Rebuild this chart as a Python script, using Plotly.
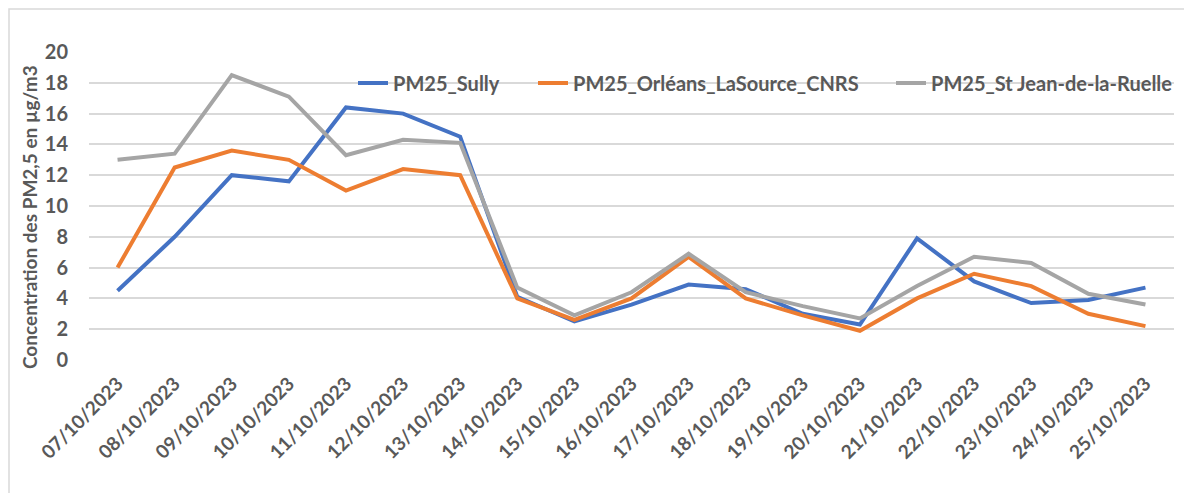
import plotly.graph_objects as go

dates = ["07/10/2023", "08/10/2023", "09/10/2023", "10/10/2023", "11/10/2023",
         "12/10/2023", "13/10/2023", "14/10/2023", "15/10/2023", "16/10/2023",
         "17/10/2023", "18/10/2023", "19/10/2023", "20/10/2023", "21/10/2023",
         "22/10/2023", "23/10/2023", "24/10/2023", "25/10/2023"]

sully = [4.5, 8.0, 12.0, 11.6, 16.4, 16.0, 14.5, 4.1, 2.5, 3.6,
         4.9, 4.6, 3.0, 2.3, 7.9, 5.1, 3.7, 3.9, 4.7]
orleans = [6.0, 12.5, 13.6, 13.0, 11.0, 12.4, 12.0, 4.0, 2.6, 4.0,
           6.7, 4.0, 2.9, 1.9, 4.0, 5.6, 4.8, 3.0, 2.2]
stjean = [13.0, 13.4, 18.5, 17.1, 13.3, 14.3, 14.1, 4.7, 2.9, 4.4,
          6.9, 4.4, 3.5, 2.7, 4.8, 6.7, 6.3, 4.3, 3.6]

names = ["PM25_Sully", "PM25_Orléans_LaSource_CNRS", "PM25_St Jean-de-la-Ruelle"]
colors = ["#4472C4", "#ED7D31", "#A5A5A5"]
yticks = [0, 2, 4, 6, 8, 10, 12, 14, 16, 18, 20]
y_title = "Concentration des PM2,5 en µg/m3"

OFF = 8  # default page body margin
W, H = 1192 - OFF, 493 - OFF
ML, MR, MT, MB = 89 - OFF, 18, 52 - OFF, 133
PW = W - ML - MR
PH = H - MT - MB

TEXT = "#595959"
FONT = "Lato"

fig = go.Figure()
legend_ids = ["legend", "legend2", "legend3"]
for vals, name, col, lg in zip([sully, orleans, stjean], names, colors, legend_ids):
    fig.add_trace(go.Scatter(x=dates, y=vals, mode="lines", name=name,
                             line=dict(color=col, width=4), legend=lg))

def px2x(px):
    return (px - OFF - ML) / PW

def py2y(py):
    return (MT + PH - (py - OFF)) / PH

leg_common = dict(orientation="h", yanchor="middle", xanchor="left",
                  bgcolor="rgba(0,0,0,0)", borderwidth=0,
                  font=dict(family=FONT, size=20, color=TEXT, weight="bold"))
legend_text_x = [393, 573, 931]
leg_layout = {}
for lg, tx in zip(legend_ids, legend_text_x):
    leg_layout[lg] = dict(x=px2x(tx - 40), y=py2y(83), **leg_common)

fig.update_layout(
    width=W, height=H,
    margin=dict(l=ML, r=MR, t=MT, b=MB, autoexpand=False),
    paper_bgcolor="white", plot_bgcolor="white",
    showlegend=True,
    **leg_layout,
    xaxis=dict(type="category", range=[-0.5, len(dates) - 0.5], tickangle=-45,
               showgrid=False, zeroline=False, automargin=False,
               showline=False, ticks="", ticklabelstandoff=8,
               tickfont=dict(family=FONT, size=19, color=TEXT, weight="bold")),
    yaxis=dict(range=[0, 20], tickvals=yticks, showgrid=True, gridcolor="#D9D9D9",
               gridwidth=1.5, zeroline=False, showline=False, ticks="",
               automargin=False, ticklabelstandoff=20,
               tickfont=dict(family=FONT, size=20, color=TEXT, weight="bold")),
    annotations=[dict(text=y_title, textangle=-90, xref="paper", yref="paper",
                      x=px2x(29), y=py2y(217), xanchor="center", yanchor="middle",
                      showarrow=False,
                      font=dict(family=FONT, size=19, color=TEXT, weight="bold"))],
    shapes=[dict(type="rect", xref="paper", yref="paper",
                 x0=px2x(9), y0=py2y(520), x1=px2x(1220), y1=py2y(9),
                 line=dict(color="#D9D9D9", width=1.5), fillcolor="rgba(0,0,0,0)",
                 layer="below")],
)

fig.write_html("out.html")
